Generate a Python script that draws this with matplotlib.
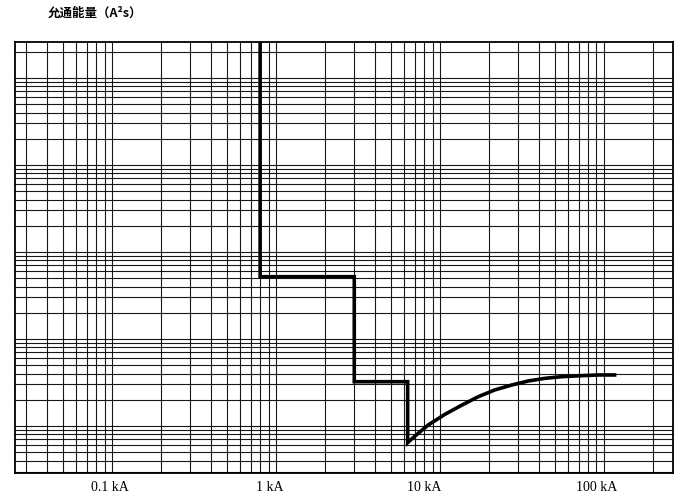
import matplotlib.pyplot as plt
import matplotlib.transforms as mtransforms
from matplotlib.ticker import LogLocator, NullFormatter
import numpy as np

# let-through energy curve (kA, A^2s)
curve_ka = [0.8, 0.8, 3.0, 3.0, 6.35, 6.35, 7.04, 8.49, 10.7, 13.6, 17.1, 21.6, 27.4,
            34.5, 43.6, 55.2, 73.1, 92.3, 116]
curve_i2t = [2.6e8, 5.2e5, 5.2e5, 3.23e4, 3.23e4, 6.43e3, 7.67e3, 1.03e4, 1.36e4, 1.74e4,
             2.17e4, 2.6e4, 2.96e4, 3.29e4, 3.53e4, 3.69e4, 3.79e4, 3.86e4, 3.86e4]

x_labels = ['0.1 kA', '1 kA', '10 kA', '100 kA']
x_label_pos = [0.097, 0.92, 8.0, 90.0]

x_range = (0.0256, 263.5)
y_range = (2922, 2.59e8)

plt.rcParams['font.family'] = ['Noto Sans CJK SC', 'DejaVu Sans']

fig = plt.figure(figsize=(6.82, 5.0), dpi=100)
ax = fig.add_axes([15 / 682, 1 - 472.5 / 500, 658 / 682, 430.5 / 500])

ax.set_xscale('log')
ax.set_yscale('log')
ax.set_xlim(*x_range)
ax.set_ylim(*y_range)

# log paper: a line at every 1..9 of each decade
ax.xaxis.set_major_locator(LogLocator(base=10, subs=np.arange(1, 10), numticks=50))
ax.yaxis.set_major_locator(LogLocator(base=10, subs=np.arange(1, 10), numticks=50))
ax.xaxis.set_minor_locator(LogLocator(base=10, subs=[], numticks=50))
ax.yaxis.set_minor_locator(LogLocator(base=10, subs=[], numticks=50))
ax.xaxis.set_major_formatter(NullFormatter())
ax.yaxis.set_major_formatter(NullFormatter())
ax.tick_params(which='both', length=0)
ax.grid(True, which='major', color='black', linewidth=0.8, alpha=0.9)

for s in ax.spines.values():
    s.set_linewidth(1.3)
    s.set_color('black')

ax.plot(curve_ka, curve_i2t, color='black', linewidth=2.6, solid_joinstyle='miter', zorder=5)

trans = mtransforms.blended_transform_factory(ax.transData, ax.transAxes)
for lab, xp in zip(x_labels, x_label_pos):
    ax.text(xp, -0.036, lab, transform=trans, ha='center', va='center',
            fontsize=10, family='Liberation Serif')

fig.text(48 / 682, 1 - 13 / 500, '允通能量（A²s）', ha='left', va='center',
         fontsize=9, fontweight='bold')

fig.savefig('out.png', dpi=100)
